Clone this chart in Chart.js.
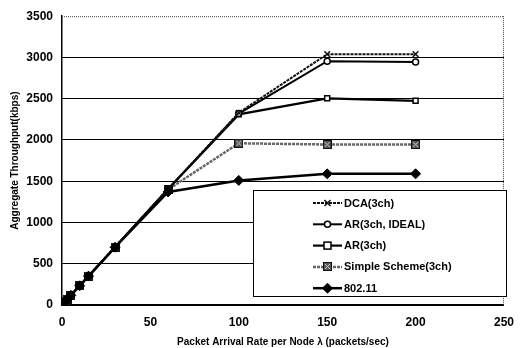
<!DOCTYPE html>
<html>
<head>
<meta charset="utf-8">
<script src="https://cdn.jsdelivr.net/npm/chart.js@4/dist/chart.umd.min.js"></script>
<style>
  html, body { margin: 0; padding: 0; background: #fff; }
  #wrap { width: 524px; height: 348px; }
</style>
</head>
<body>
<div id="wrap"><canvas id="grafico" width="524" height="348"></canvas></div>
<script>
// valores
const rates = [1, 2, 3, 5, 10, 15, 30, 60, 100, 150, 200];
const dca = [23, 47, 70, 117, 233, 350, 700, 1405, 2330, 3040, 3040];
const arIdeal = [23, 47, 70, 117, 233, 350, 700, 1405, 2320, 2955, 2945];
const ar = [23, 47, 70, 117, 233, 350, 700, 1405, 2310, 2505, 2475];
const simple = [23, 47, 70, 117, 233, 350, 700, 1400, 1960, 1945, 1945];
const ieee = [23, 47, 70, 117, 233, 350, 700, 1370, 1510, 1590, 1590];
const seriesNames = ['DCA(3ch)', 'AR(3ch, IDEAL)', 'AR(3ch)', 'Simple Scheme(3ch)', '802.11'];
const xTicks = [0, 50, 100, 150, 200, 250];
const yTicks = [0, 500, 1000, 1500, 2000, 2500, 3000, 3500];

const FONT = 'Liberation Sans, Arial, sans-serif';

function puntos(vals) {
  return rates.map((r, i) => ({ x: r, y: vals[i] }));
}

// marcador gris con una x para Simple Scheme
const simpleMark = document.createElement('canvas');
simpleMark.width = 9; simpleMark.height = 9;
(function() {
  const c = simpleMark.getContext('2d');
  c.fillStyle = '#555';
  c.fillRect(0, 0, 9, 9);
  c.strokeStyle = '#111';
  c.lineWidth = 1;
  c.strokeRect(0.5, 0.5, 8, 8);
  c.strokeStyle = '#ccc';
  c.beginPath();
  c.moveTo(2, 2); c.lineTo(7, 7);
  c.moveTo(7, 2); c.lineTo(2, 7);
  c.stroke();
})();

const estilos = [
  { borderColor: '#111', borderWidth: 2, borderDash: [3, 1], pointStyle: 'crossRot', pointRadius: 4, pointBorderWidth: 1.5, pointBackgroundColor: '#111', pointBorderColor: '#111' },
  { borderColor: '#000', borderWidth: 2, pointStyle: 'circle', pointRadius: 3, pointBorderWidth: 1.5, pointBackgroundColor: '#fff', pointBorderColor: '#000' },
  { borderColor: '#000', borderWidth: 2.2, pointStyle: 'rect', pointRadius: 3.5, pointBorderWidth: 1.5, pointBackgroundColor: '#fff', pointBorderColor: '#000' },
  { borderColor: '#666', borderWidth: 2.5, borderDash: [3, 1], pointStyle: simpleMark, pointRadius: 4.5, pointBorderWidth: 1, pointBackgroundColor: '#555', pointBorderColor: '#111' },
  { borderColor: '#000', borderWidth: 2.5, pointStyle: 'rectRot', pointRadius: 5, pointBorderWidth: 1, pointBackgroundColor: '#000', pointBorderColor: '#000' }
];
const valores = [dca, arIdeal, ar, simple, ieee];
const ordenes = [1, 2, 3, 4, 0];

const datasets = valores.map((v, i) => Object.assign({
  label: seriesNames[i],
  data: puntos(v),
  fill: false,
  tension: 0,
  order: ordenes[i]
}, estilos[i]));

// marcador de la leyenda
function dibujarMarca(ctx, i, x, y) {
  const e = estilos[i];
  ctx.save();
  ctx.setLineDash([]);
  ctx.lineWidth = e.pointBorderWidth;
  ctx.strokeStyle = e.pointBorderColor;
  ctx.fillStyle = e.pointBackgroundColor;
  const r = e.pointRadius;
  if (i === 0) {
    ctx.beginPath();
    ctx.moveTo(x - 3, y - 3); ctx.lineTo(x + 3, y + 3);
    ctx.moveTo(x + 3, y - 3); ctx.lineTo(x - 3, y + 3);
    ctx.stroke();
  } else if (i === 1) {
    ctx.beginPath(); ctx.arc(x, y, r, 0, Math.PI * 2); ctx.fill(); ctx.stroke();
  } else if (i === 2) {
    ctx.fillRect(x - r, y - r, r * 2, r * 2); ctx.strokeRect(x - r, y - r, r * 2, r * 2);
  } else if (i === 3) {
    ctx.drawImage(simpleMark, Math.round(x - 4.5), Math.round(y - 4.5));
  } else {
    ctx.beginPath();
    ctx.moveTo(x, y - r); ctx.lineTo(x + r, y); ctx.lineTo(x, y + r); ctx.lineTo(x - r, y);
    ctx.closePath(); ctx.fill(); ctx.stroke();
  }
  ctx.restore();
}

const marcoYLeyenda = {
  id: 'marcoYLeyenda',
  afterDraw(chart) {
    const ctx = chart.ctx;
    const a = chart.chartArea;
    ctx.save();
    // borde superior y derecho punteados
    ctx.strokeStyle = '#444';
    ctx.lineWidth = 1;
    ctx.setLineDash([1, 1]);
    ctx.beginPath();
    ctx.moveTo(a.left, a.top + 0.5); ctx.lineTo(a.right, a.top + 0.5);
    ctx.moveTo(a.right - 0.5, a.top); ctx.lineTo(a.right - 0.5, a.bottom);
    ctx.stroke();
    ctx.setLineDash([]);

    // caja de leyenda
    const bx = 253, by = 190, bw = 254, bh = 107;
    ctx.fillStyle = '#fff';
    ctx.fillRect(bx, by, bw, bh);
    ctx.strokeStyle = '#000';
    ctx.lineWidth = 1;
    ctx.strokeRect(bx + 0.5, by + 0.5, bw - 1, bh - 1);

    ctx.font = 'bold 11px ' + FONT;
    ctx.textBaseline = 'middle';
    ctx.textAlign = 'left';
    seriesNames.forEach((nombre, i) => {
      const y = by + 13 + i * 21.3;
      const e = estilos[i];
      ctx.strokeStyle = e.borderColor;
      ctx.lineWidth = e.borderWidth;
      ctx.setLineDash(e.borderDash || []);
      ctx.beginPath();
      ctx.moveTo(313, y); ctx.lineTo(342, y);
      ctx.stroke();
      dibujarMarca(ctx, i, 327.5, y);
      ctx.fillStyle = '#000';
      ctx.fillText(nombre, 344, y + 0.5);
    });
    ctx.restore();
  }
};

new Chart(document.getElementById('grafico').getContext('2d'), {
  type: 'line',
  data: { datasets: datasets },
  plugins: [marcoYLeyenda],
  options: {
    responsive: false,
    animation: false,
    layout: { padding: { left: 0, right: 17, top: 14, bottom: 0 } },
    plugins: {
      legend: { display: false },
      tooltip: { enabled: false }
    },
    scales: {
      x: {
        type: 'linear',
        min: 0,
        max: 250,
        afterFit: s => { s.height = 43; },
        afterBuildTicks: s => { s.ticks = xTicks.map(v => ({ value: v })); },
        grid: { display: false, drawTicks: false },
        border: { display: true, color: '#000', width: 1.5 },
        ticks: {
          color: '#000', padding: 10,
          font: { family: FONT, size: 12, weight: 'bold' },
          callback: v => String(v)
        },
        title: {
          display: true,
          text: 'Packet Arrival Rate per Node λ (packets/sec)',
          color: '#000',
          padding: { top: 0, bottom: 0 },
          font: { family: FONT, size: 10, weight: 'bold' }
        }
      },
      y: {
        type: 'linear',
        min: 0,
        max: 3500,
        afterFit: s => { s.width = 62; },
        afterBuildTicks: s => { s.ticks = yTicks.map(v => ({ value: v })); },
        grid: {
          drawTicks: false,
          color: c => (c.tick && c.tick.value === 3500) ? 'rgba(0,0,0,0)' : '#000',
          lineWidth: 1
        },
        border: { display: true, color: '#000', width: 1.5 },
        ticks: {
          color: '#000', padding: 9,
          font: { family: FONT, size: 12, weight: 'bold' },
          callback: v => String(v)
        },
        title: {
          display: true,
          text: 'Aggregate Throughput(kbps)',
          color: '#000',
          padding: { top: 9, bottom: 0 },
          font: { family: FONT, size: 10, weight: 'bold' }
        }
      }
    }
  }
});
</script>
</body>
</html>
